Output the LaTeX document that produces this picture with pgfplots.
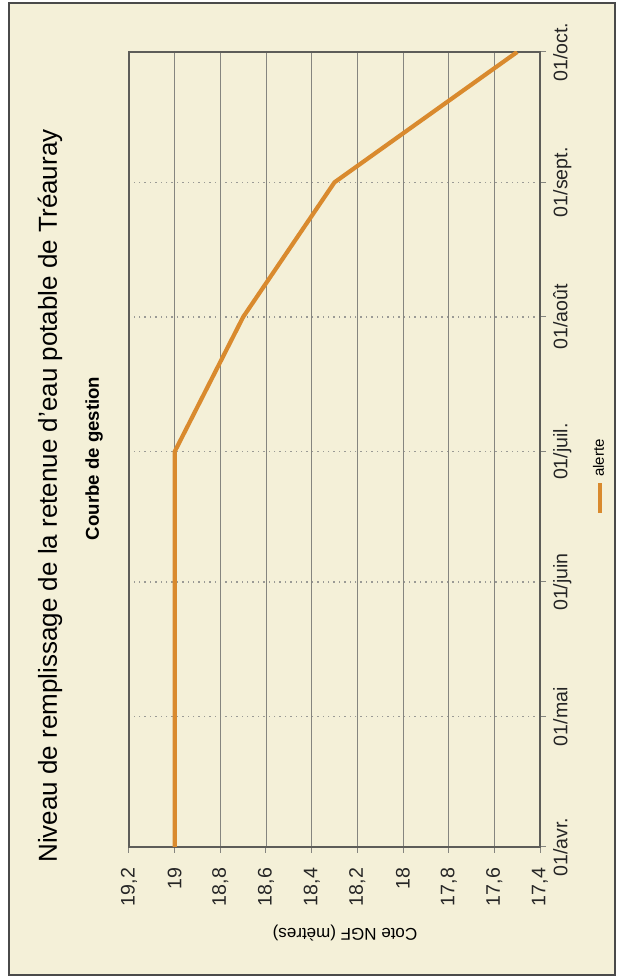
\documentclass[border=0pt]{standalone}
\usepackage{fontspec}
\setmainfont{Liberation Sans}
\usepackage{pgfplots}
\pgfplotsset{compat=1.18}
\definecolor{bg}{HTML}{F4F0D8}
\definecolor{framec}{HTML}{4A4A4A}
\definecolor{orangec}{HTML}{D98A2E}
\definecolor{gridc}{HTML}{85857F}
\definecolor{dotc}{HTML}{9A9A95}
\begin{document}
\begin{tikzpicture}
\begin{scope}[transform canvas={rotate=90}]
\fill[white] (0,0) rectangle (489pt,311.5pt);
\draw[framec, line width=1.2pt, fill=bg] (1.5pt,4pt) rectangle (487.5pt,307pt);
\begin{axis}[
  scale only axis, width=397.5pt, height=205.5pt,
  at={(65.5pt,41.5pt)}, anchor=south west,
  xmin=0, xmax=183, ymin=17.4, ymax=19.2,
  xtick={0,30,61,91,122,153,183},
  xticklabels={01/avr.,01/mai,01/juin,01/juil.,01/août,01/sept.,01/oct.},
  ytick={17.4,17.6,17.8,18,18.2,18.4,18.6,18.8,19,19.2},
  /pgf/number format/.cd, use comma, fixed, precision=1, assume math mode=true,
  /pgfplots/.cd,
  tick label style={font=\fontsize{9.8}{11}\selectfont, text=black!85},
  yticklabel style={xshift=-4pt},
  tick pos=left, tick align=outside, major tick length=3pt,
  tick style={gridc, line width=0.5pt},
  axis line style={gridc!70!black, line width=0.6pt},
  ymajorgrids, xmajorgrids,
  y grid style={gridc, line width=0.45pt},
  x grid style={dotc, line width=0.7pt, dotted},
  axis background/.style={fill=bg},
  legend style={at={(0.468,-0.146)}, anchor=center, draw=none, fill=none,
    font=\fontsize{7.5}{9}\selectfont},
  legend image code/.code={\draw[#1, line width=2pt] (0pt,0pt) -- (15pt,0pt);},
]
\addplot[orangec, line width=2.1pt, line join=round] coordinates {
  (0,19.0) (91,19.0) (122,18.70) (153,18.30) (183,17.50)
};
\addlegendentry{alerte}
\end{axis}
\node[font=\fontsize{13}{15}\selectfont] at (241pt,286.5pt) {Niveau de remplissage de la retenue d'eau potable de Tréauray};
\node[font=\bfseries\fontsize{9.3}{11}\selectfont] at (259.75pt,264.5pt) {Courbe de gestion};
\node[font=\fontsize{8.5}{10}\selectfont, rotate=90] at (22.5pt,139pt) {Cote NGF (mètres)};
\end{scope}
\pgfresetboundingbox
\useasboundingbox (-311.5pt,0pt) rectangle (0pt,489pt);
\end{tikzpicture}
\end{document}
